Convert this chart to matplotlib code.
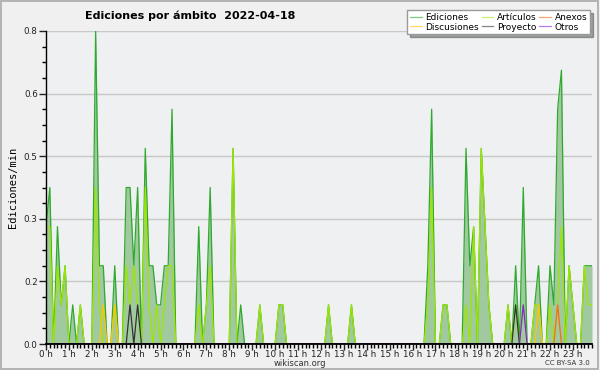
import numpy as np
import matplotlib
matplotlib.use("Agg")
import matplotlib.pyplot as plt
from matplotlib.ticker import MultipleLocator, FixedLocator, FormatStrFormatter
from matplotlib.patches import Rectangle

# edits per minute, one value every 10 minutes (6 per hour)
ediciones = [
    0.3, 0.4, 0, 0.3, 0.1, 0.2,
    0, 0.1, 0, 0.1, 0, 0,
    0, 0.8, 0.2, 0.2, 0, 0,
    0.2, 0, 0, 0.4, 0.4, 0.2,
    0.4, 0, 0.5, 0.2, 0.2, 0.1,
    0.1, 0.2, 0.2, 0.6, 0, 0,
    0, 0, 0, 0, 0.3, 0,
    0.1, 0.4, 0, 0, 0, 0,
    0, 0.5, 0, 0.1, 0, 0,
    0, 0, 0.1, 0, 0, 0,
    0, 0.1, 0.1, 0, 0, 0,
    0, 0, 0, 0, 0, 0,
    0, 0, 0.1, 0, 0, 0,
    0, 0, 0.1, 0, 0, 0,
    0, 0, 0, 0, 0, 0,
    0, 0, 0, 0, 0, 0,
    0, 0, 0, 0, 0.2, 0.6,
    0, 0, 0.1, 0.1, 0, 0,
    0, 0, 0.5, 0.2, 0.3, 0,
    0.5, 0.3, 0.1, 0, 0, 0,
    0, 0.1, 0, 0.2, 0, 0.4,
    0, 0, 0.1, 0.2, 0, 0,
    0.2, 0.1, 0.6, 0.7, 0, 0.2,
    0.1, 0, 0, 0.2, 0.2, 0.2,
]
articulos = [
    0.3, 0.3, 0, 0.2, 0.1, 0.2,
    0, 0, 0, 0.1, 0, 0,
    0, 0.4, 0.1, 0, 0, 0,
    0.1, 0, 0, 0.2, 0.1, 0.2,
    0.1, 0, 0.4, 0.1, 0, 0.1,
    0, 0.1, 0.2, 0.2, 0, 0,
    0, 0, 0, 0, 0.1, 0,
    0.1, 0.2, 0, 0, 0, 0,
    0, 0.5, 0, 0, 0, 0,
    0, 0, 0.1, 0, 0, 0,
    0, 0.1, 0.1, 0, 0, 0,
    0, 0, 0, 0, 0, 0,
    0, 0, 0.1, 0, 0, 0,
    0, 0, 0.1, 0, 0, 0,
    0, 0, 0, 0, 0, 0,
    0, 0, 0, 0, 0, 0,
    0, 0, 0, 0, 0.1, 0.4,
    0, 0, 0.1, 0.1, 0, 0,
    0, 0, 0.1, 0, 0.3, 0,
    0.5, 0.3, 0.1, 0, 0, 0,
    0, 0.1, 0, 0.1, 0, 0.1,
    0, 0, 0.1, 0.1, 0, 0,
    0.1, 0, 0.1, 0.3, 0, 0.2,
    0.1, 0, 0, 0.2, 0.1, 0.1,
]
# sparse series: index of the 10-min slot -> value
anexos_pts = {134: 0.1}
discusiones_pts = {15: 0.1, 18: 0.1, 129: 0.1}
proyecto_pts = {22: 0.1, 24: 0.1, 123: 0.1}
otros_pts = {125: 0.1}

hour_labels = ["%d h" % h for h in range(24)]

n = len(ediciones)
t = np.arange(n) / 6.0

def sparse(pts):
    y = np.zeros(n)
    for k, v in pts.items():
        y[k] = v
    return y

anexos = sparse(anexos_pts)
discusiones = sparse(discusiones_pts)
proyecto = sparse(proyecto_pts)
otros = sparse(otros_pts)

fig = plt.figure(figsize=(6, 3.7), dpi=100, facecolor="#f0f0f0")
ax = fig.add_axes([46/600, 26/370, 546/600, 313/370])
ax.set_facecolor("#eef0f1")

# frame around whole picture
fig.patches.append(Rectangle((0.002, 0.003), 0.995, 0.994, transform=fig.transFigure,
                             fill=False, edgecolor="#a8a8a8", lw=1.2))

ax.fill_between(t, ediciones, 0, color="#a0c9a0", lw=0)
l_ed, = ax.plot(t, ediciones, color="#2eaa2e", lw=0.9, label="Ediciones")
l_ar, = ax.plot(t, articulos, color="#9ee600", lw=0.9, label="Artículos")
l_di, = ax.plot(t, discusiones, color="#ffc400", lw=0.9, label="Discusiones")
l_an, = ax.plot(t, anexos, color="#ff6a10", lw=0.9, label="Anexos")
l_pr, = ax.plot(t, proyecto, color="#333333", lw=0.9, label="Proyecto")
l_ot, = ax.plot(t, otros, color="#8a22e0", lw=0.9, label="Otros")

ax.set_xlim(0, t[-1])
ax.set_ylim(0, 0.8)

ax.yaxis.set_major_locator(FixedLocator([0, 0.16, 0.32, 0.48, 0.64, 0.8]))
ax.yaxis.set_minor_locator(MultipleLocator(0.04))
ax.yaxis.set_major_formatter(FormatStrFormatter("%.1f"))
ax.set_xticks(np.arange(24))
ax.set_xticklabels(hour_labels)
ax.xaxis.set_minor_locator(MultipleLocator(1/6.0))

ax.grid(axis="y", which="major", color="#c8c8c8", lw=1.0)
ax.set_axisbelow(True)
for s in ["top", "right"]:
    ax.spines[s].set_visible(False)
ax.spines["left"].set_linewidth(1.0)
ax.spines["bottom"].set_linewidth(1.3)

ax.tick_params(axis="y", which="major", length=5, width=1, labelsize=6.3, pad=1, colors="#222222")
ax.tick_params(axis="y", which="minor", length=3, width=1)
ax.tick_params(axis="x", which="major", length=4, width=1, labelsize=6.3, pad=0.5, colors="#222222")
ax.tick_params(axis="x", which="minor", length=3, width=1)

ax.set_ylabel("Ediciones/min", family="DejaVu Sans Mono", fontsize=7.5, labelpad=4)

fig.text(85/600, 1 - 16/370, "Ediciones por ámbito  2022-04-18", fontsize=8,
         fontweight="bold", ha="left", va="center")
fig.text(300/600, 1 - 363/370, "wikiscan.org", fontsize=6, ha="center", va="center",
         color="#333333")
fig.text(590/600, 1 - 363/370, "CC BY-SA 3.0", fontsize=5, ha="right", va="center",
         color="#333333")

leg = fig.legend([l_ed, l_di, l_ar, l_pr, l_an, l_ot],
                 ["Ediciones", "Discusiones", "Artículos", "Proyecto", "Anexos", "Otros"],
                 ncol=3, loc="upper right", bbox_to_anchor=(590/600, 1 - 10/370),
                 fontsize=6.5, frameon=True, fancybox=False, shadow=True,
                 handlelength=1.3, handletextpad=0.4, columnspacing=0.3,
                 labelspacing=0.1, borderpad=0.3, borderaxespad=0)
leg.get_frame().set_edgecolor("#999999")
leg.get_frame().set_linewidth(1.0)
for h in leg.legend_handles:
    h.set_alpha(0.6)

fig.savefig("out.png", dpi=100, facecolor=fig.get_facecolor())
